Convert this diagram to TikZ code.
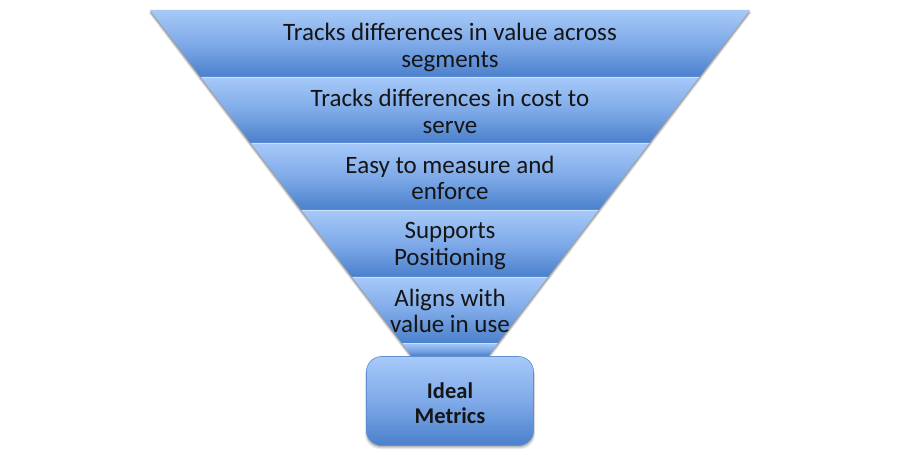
\documentclass[tikz,border=0pt]{standalone}
\usepackage{fontspec}
\setmainfont{Carlito}
\usetikzlibrary{shadings}
\definecolor{bandtop}{HTML}{A6C9F8}
\definecolor{bandmid}{HTML}{7FAAE8}
\definecolor{bandbot}{HTML}{4A80CC}
\definecolor{txt}{HTML}{151515}
\definecolor{boxedge}{HTML}{5F8FD0}
\newcommand{\funtext}[1]{\begin{tabular}[t]{@{}c@{}}#1\end{tabular}}
\tikzset{
  band/.style={top color=bandtop, bottom color=bandbot, middle color=bandmid},
  sep/.style={draw=bandtop!60!white, line width=0.8pt},
  label/.style={font=\fontsize{25}{26.6}\selectfont, text=txt, inner sep=0pt, anchor=base},
  goalbox/.style={rounded corners=15pt, top color=bandtop, bottom color=bandbot, middle color=bandmid,
    draw=boxedge, line width=0.6pt, minimum width=167pt, minimum height=89pt, inner sep=0pt,
    font=\bfseries\fontsize{22.5}{25}\selectfont, text=txt},
}
\begin{document}
\begin{tikzpicture}[x=1pt,y=-1pt]
\useasboundingbox (0,0) rectangle (900,465);
% shadow of funnel
\foreach \o/\a in {3/0.10,2/0.15,1/0.2}{
  \fill[black,opacity=\a] (150-\o*0.4,10+\o) -- (750+\o*0.4,10+\o) -- (488.8+\o*0.4,355+\o) -- (411.2-\o*0.4,355+\o) -- cycle;
}
% bands
\path[band] (150,10) -- (750,10) -- (699.3,77) -- (200.7,77) -- cycle;
\path[band] (200.7,77) -- (699.3,77) -- (649.3,143) -- (250.7,143) -- cycle;
\path[band] (250.7,143) -- (649.3,143) -- (598.6,210) -- (301.4,210) -- cycle;
\path[band] (301.4,210) -- (598.6,210) -- (547.9,277) -- (352.1,277) -- cycle;
\path[band] (352.1,277) -- (547.9,277) -- (497.9,343) -- (402.1,343) -- cycle;
\path[band] (402.1,343) -- (497.9,343) -- (488.8,356) -- (411.2,356) -- cycle;
% separators
\draw[sep] (201.5,77.6) -- (698.5,77.6);
\draw[sep] (251.5,143.6) -- (648.5,143.6);
\draw[sep] (302.2,210.6) -- (597.8,210.6);
\draw[sep] (352.9,277.6) -- (547.1,277.6);
\draw[sep] (402.9,343.6) -- (497.1,343.6);
% texts
\node[label] (t1) at (450,40.5) {\funtext{Tracks differences in value across\\segments}};
\node[label] (t2) at (450,106.7) {\funtext{Tracks differences in cost to\\serve}};
\node[label] (t3) at (450,173.3) {\funtext{Easy to measure and\\enforce}};
\node[label] (t4) at (450,238.8) {\funtext{Supports\\Positioning}};
\node[label] (t5) at (450,306.3) {\funtext{Aligns with\\value in use}};
% goal box shadow
\foreach \o/\a in {4/0.08,3/0.1,2/0.12}{
  \fill[black,opacity=\a,rounded corners=15pt] (367-\o*0.5,357+\o) rectangle (533+\o*0.5,445+\o);
}
\node[goalbox] (goal) at (450,401) {\raisebox{-5pt}[17.5pt][32.5pt]{\funtext{Ideal\\Metrics}}};
\end{tikzpicture}
\end{document}
